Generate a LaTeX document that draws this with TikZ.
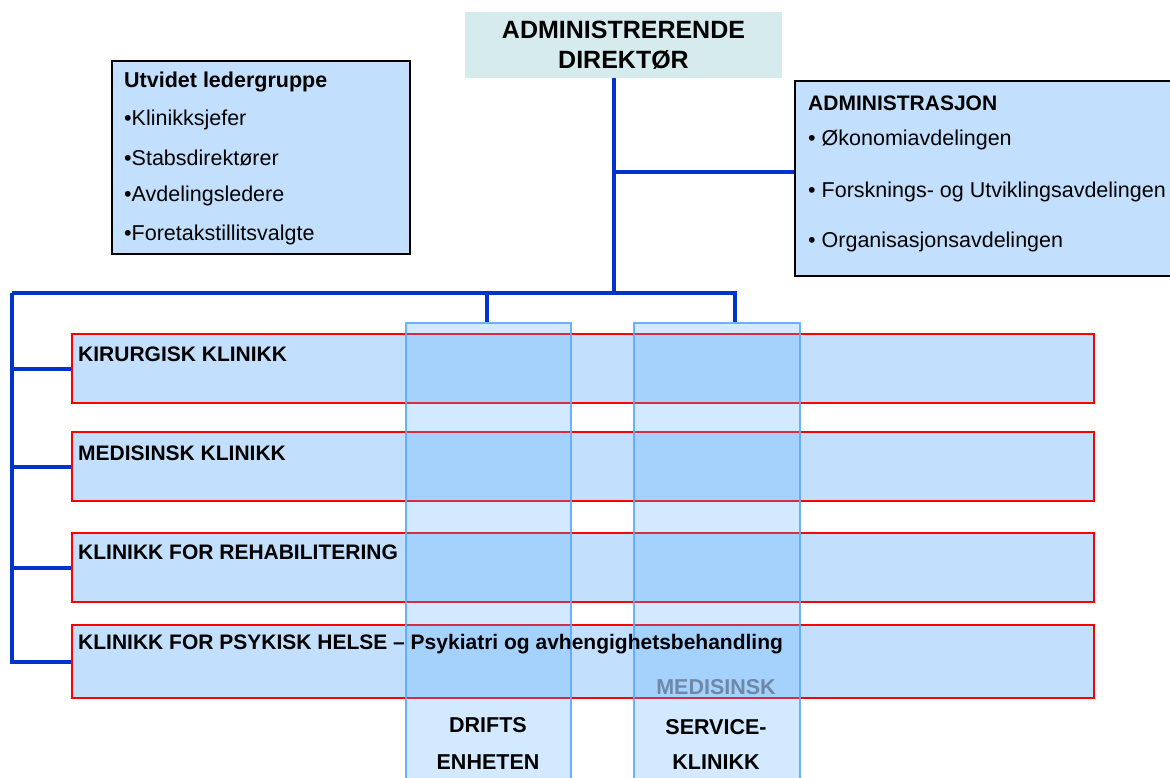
\documentclass[tikz,border=0pt]{standalone}
\usepackage{fontspec}
\setmainfont{Liberation Sans}
\definecolor{connblue}{HTML}{0033CC}
\definecolor{boxfill}{HTML}{C2E0FD}
\definecolor{ceofill}{HTML}{D5EBEE}
\definecolor{colborder}{HTML}{5EAAFF}
\definecolor{colfill}{HTML}{5AAEFF}
\definecolor{medgray}{HTML}{6E88A6}
\begin{document}
\begin{tikzpicture}[x=1pt,y=-1pt,
  conn/.style={draw=connblue, line width=4pt},
  rowbox/.style={rectangle, draw=red, line width=2.5pt, fill=boxfill, minimum width=1022pt, minimum height=69pt, inner sep=0pt},
  colbox/.style={rectangle, draw=colborder, line width=2pt, fill=colfill, fill opacity=0.27, draw opacity=0.9, minimum height=467pt, inner sep=0pt},
  infobox/.style={rectangle, draw=black, line width=2pt, fill=boxfill, inner sep=0pt},
  rowlabel/.style={anchor=west, inner sep=0pt, font=\fontsize{21}{24}\selectfont\bfseries},
  collabel/.style={inner sep=0pt, font=\fontsize{21.5}{24}\selectfont\bfseries},
  item/.style={anchor=west, inner sep=0pt, font=\fontsize{21.5}{24}\selectfont}]
\useasboundingbox (0,0) rectangle (1170,778);
\clip (0,0) rectangle (1170,778);
% top box
\node[rectangle, fill=ceofill, minimum width=317pt, minimum height=66pt, inner sep=0pt] (ceo) at (623.5,45) {};
\node[inner sep=0pt, font=\fontsize{25}{30}\selectfont\bfseries, align=center] (ceot) at (623.5,45) {ADMINISTRERENDE\\DIREKTØR};
% info boxes
\node[infobox, minimum width=298pt, minimum height=193pt] (led) at (261,157.5) {};
\node[item, font=\fontsize{21.5}{24}\selectfont\bfseries] (led0) at (124,82) {Utvidet ledergruppe};
\node[item] (led1) at (124,120) {•Klinikksjefer};
\node[item] (led2) at (124,158) {•Stabsdirektører};
\node[item] (led3) at (124,196) {•Avdelingsledere};
\node[item] (led4) at (124,235) {•Foretakstillitsvalgte};
\node[infobox, minimum width=390pt, minimum height=195pt] (adm) at (990,178.5) {};
\node[item, font=\fontsize{21}{24}\selectfont\bfseries] (adm0) at (808,103) {ADMINISTRASJON};
\node[item] (adm1) at (808,140) {• Økonomiavdelingen};
\node[item] (adm2) at (808,192) {• Forsknings- og Utviklingsavdelingen};
\node[item] (adm3) at (808,242) {• Organisasjonsavdelingen};
% rows
\node[rowbox] (r1) at (583,368.5) {};
\node[rowbox] (r2) at (583,466.5) {};
\node[rowbox] (r3) at (583,567.5) {};
\node[rowbox, minimum height=73pt] (r4) at (583,661.5) {};
% columns
\node[colbox, minimum width=165pt] (c1) at (488.5,556.5) {};
\node[colbox, minimum width=166pt] (c2) at (717,556.5) {};
% connectors
\coordinate (j) at (614,293);
\coordinate (ja) at (614,172);
\coordinate (jl) at (12,293);
\coordinate (jc1) at (487,293);
\coordinate (jc2) at (735,293);
\draw[conn] (ceo.south -| j) -- (j);
\draw[conn] (ja) -- (ja -| adm.west);
\draw[conn, line join=miter] (jl) -- (jc2) -- (jc2 |- c2.north);
\draw[conn] (jc1) -- (jc1 |- c1.north);
\draw[conn, line join=miter] (jl) -- (jl |- r4.west) -- (r4.west);
\draw[conn] (jl |- r1.west) -- (r1.west);
\draw[conn] (jl |- r2.west) -- (r2.west);
\draw[conn] (jl |- r3.west) -- (r3.west);
% labels
\node[rowlabel] (r1t) at (78,354) {KIRURGISK KLINIKK};
\node[rowlabel] (r2t) at (78,453) {MEDISINSK KLINIKK};
\node[rowlabel] (r3t) at (78,552) {KLINIKK FOR REHABILITERING};
\node[rowlabel] (r4t) at (78,644) {KLINIKK FOR PSYKISK HELSE – Psykiatri og avhengighetsbehandling};
\node[collabel] (c1a) at (488,725) {DRIFTS};
\node[collabel] (c1b) at (488,762) {ENHETEN};
\node[collabel, text=medgray] (c2a) at (716,687) {MEDISINSK};
\node[collabel] (c2b) at (716,727) {SERVICE-};
\node[collabel] (c2c) at (716,762) {KLINIKK};
\end{tikzpicture}
\end{document}
